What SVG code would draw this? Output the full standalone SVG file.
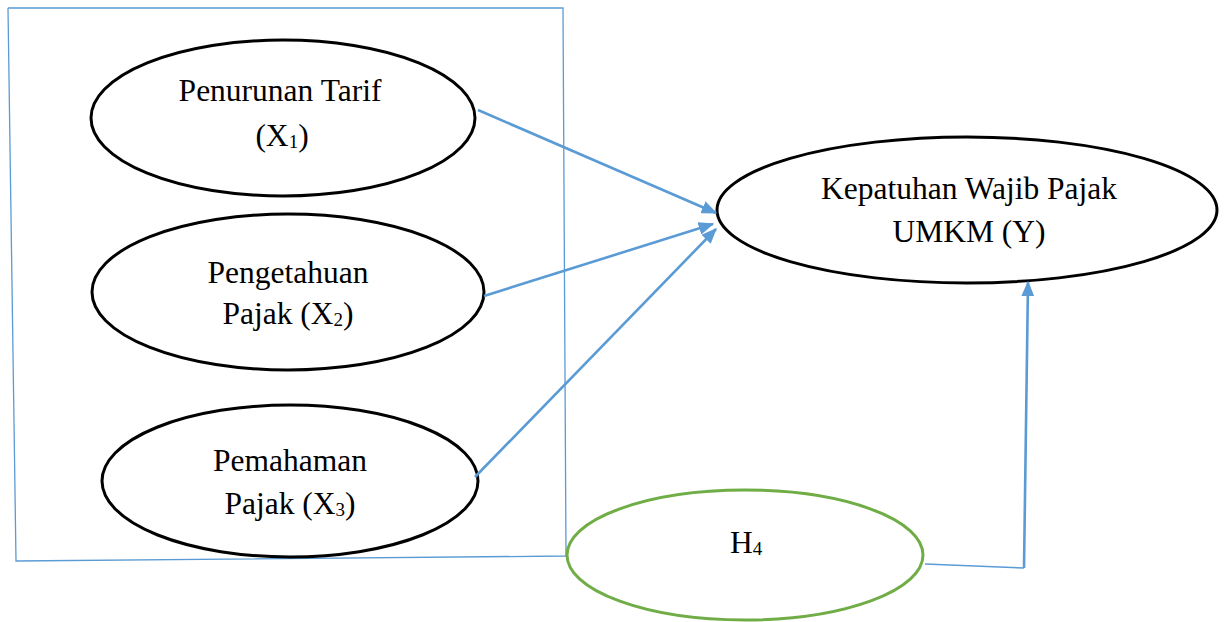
<svg xmlns="http://www.w3.org/2000/svg" width="1225" height="622" viewBox="0 0 1225 622">
<style>
.node{fill:#fff;stroke:#000;stroke-width:3}
.h4{fill:#fff;stroke:#70ad47;stroke-width:3}
.lbl{font-family:"Liberation Serif","Times New Roman",serif;font-size:31.5px;fill:#000;text-anchor:middle}
.sub{font-size:19px}
.frame{fill:none;stroke:#5b9bd5;stroke-width:1.3}
.arr{fill:none;stroke:#5b9bd5;stroke-width:2.6}
.thin{fill:none;stroke:#5b9bd5;stroke-width:1.6}
</style>
<defs>
<marker id="ah" markerWidth="6" markerHeight="5" refX="5.5" refY="2.5" orient="auto" markerUnits="strokeWidth">
<path d="M0,0 L6,2.5 L0,5 Z" fill="#5b9bd5"/>
</marker>
</defs>
<g id="frame">
<path class="frame" d="M8,8 L563,8 L566,556 L16,561 L8,8"/>
</g>
<g id="x1">
<ellipse class="node" cx="283" cy="118" rx="192" ry="78"/>
<text class="lbl" x="280" y="101">Penurunan Tarif</text>
<text class="lbl" x="282" y="146">(X<tspan class="sub" dy="2">1</tspan><tspan dy="-2">)</tspan></text>
</g>
<g id="x2">
<ellipse class="node" cx="288" cy="292" rx="196" ry="78"/>
<text class="lbl" x="288" y="283">Pengetahuan</text>
<text class="lbl" x="288" y="324">Pajak (X<tspan class="sub" dy="2">2</tspan><tspan dy="-2">)</tspan></text>
</g>
<g id="x3">
<ellipse class="node" cx="290" cy="481" rx="188" ry="76"/>
<text class="lbl" x="290" y="471">Pemahaman</text>
<text class="lbl" x="290" y="514">Pajak (X<tspan class="sub" dy="2">3</tspan><tspan dy="-2">)</tspan></text>
</g>
<g id="y">
<ellipse class="node" cx="967" cy="210" rx="250" ry="73"/>
<text class="lbl" x="969" y="199">Kepatuhan Wajib Pajak</text>
<text class="lbl" x="969" y="242">UMKM (Y)</text>
</g>
<g id="h4">
<ellipse class="h4" cx="745" cy="555" rx="178" ry="65"/>
<text class="lbl" x="746" y="553">H<tspan class="sub" dy="2">4</tspan></text>
</g>
<g id="connectors">
<line class="arr" x1="478" y1="110" x2="716" y2="213" marker-end="url(#ah)"/>
<line class="arr" x1="484" y1="296" x2="713" y2="224" marker-end="url(#ah)"/>
<line class="arr" x1="475" y1="477" x2="716" y2="229" marker-end="url(#ah)"/>
<polyline class="thin" points="925,564 1024,568"/>
<line class="arr" x1="1024" y1="568" x2="1028" y2="282" marker-end="url(#ah)"/>
</g>
</svg>
